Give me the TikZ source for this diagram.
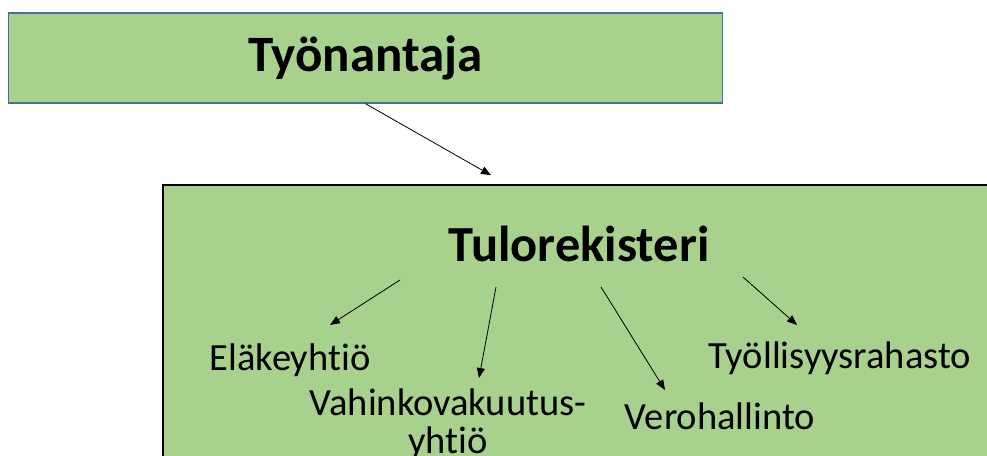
\documentclass[tikz,border=0pt]{standalone}
\usepackage{fontspec}
\setmainfont{Carlito}[RawFeature=-liga]
\usetikzlibrary{positioning,arrows.meta}
\definecolor{boxgreen}{HTML}{A9D18E}
\definecolor{boxblue}{HTML}{41719C}

\begin{document}
\begin{tikzpicture}[x=1pt,y=-1pt]%[scale=2.5]
\useasboundingbox (0,0) rectangle (987,455);
\clip (0,0) rectangle (987,455);
\tikzstyle{every node}=[inner sep=0pt];
\tikzstyle{arr}=[-{Triangle[length=10pt,width=8pt]},line width=0.8pt];
\tikzstyle{label}=[font=\fontsize{38.5}{38}\selectfont,align=center];
\tikzstyle{title}=[font=\fontsize{51}{52}\selectfont\bfseries];

\draw node[draw=boxblue,line width=1.4pt,fill=boxgreen,minimum width=714,minimum height=90,title] (tyo) at (365.5,58) {Työnantaja};
\draw node[draw=black,line width=1.6pt,fill=boxgreen,minimum width=837,minimum height=285] (rek) at (581.5,327.5) {};

\draw node[title,font=\fontsize{50.5}{52}\selectfont\bfseries] (tulo) at (579,244) {Tulorekisteri};
\draw node[label] (elake) at (290,360) {Eläkeyhtiö};
\draw node[label] (vahinko) at (448,424) {Vahinkovakuutus-\\yhtiö};
\draw node[label] (vero) at (720,416) {Verohallinto};
\draw node[label] (tyoll) at (840,358) {Työllisyysrahasto};

\draw[arr] (tyo.south) -- ([shift={(-90.5,-9)}]rek.north);
\draw[arr] ([shift={(-179,36)}]tulo.center) -- ([shift={(40,-35)}]elake.center);
\draw[arr] ([shift={(-83,43)}]tulo.center) -- ([shift={(31,-46)}]vahinko.center);
\draw[arr] ([shift={(22,43)}]tulo.center) -- ([shift={(-55,-26)}]vero.center);
\draw[arr] ([shift={(164,33)}]tulo.center) -- ([shift={(-43,-33)}]tyoll.center);
\end{tikzpicture}
\end{document}
